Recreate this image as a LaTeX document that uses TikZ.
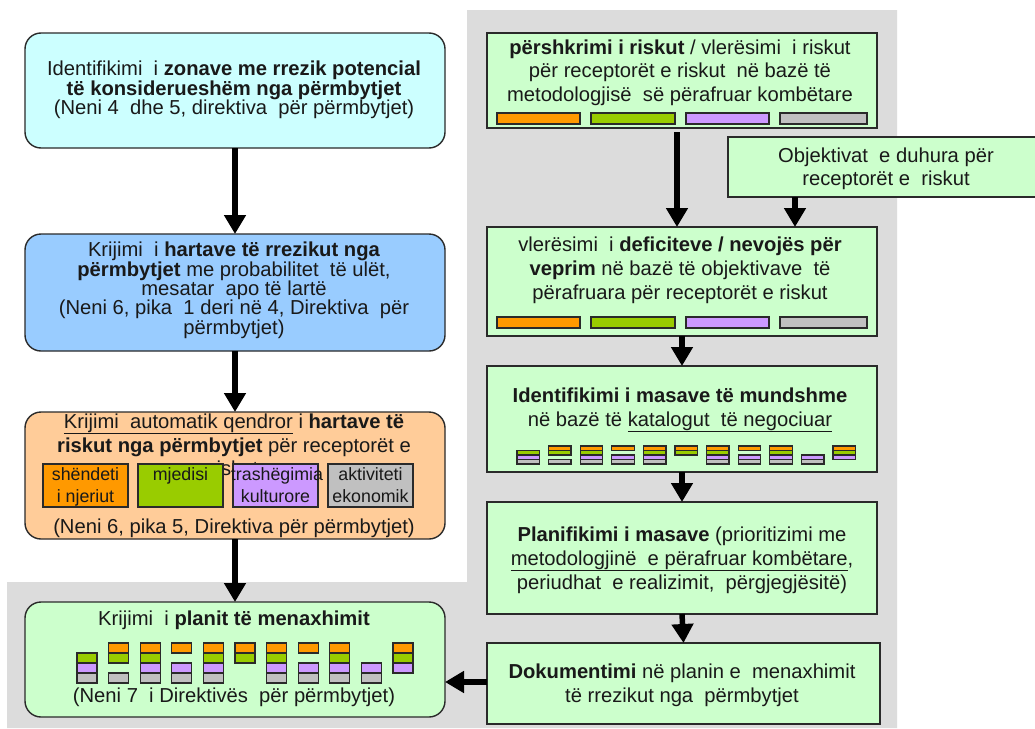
\documentclass[tikz,border=0pt]{standalone}
\usepackage{fontspec}
\setmainfont{Liberation Sans}
\usetikzlibrary{arrows.meta,calc}
\definecolor{bgray}{HTML}{DCDCDC}
\definecolor{cyanf}{HTML}{CCFFFF}
\definecolor{bluef}{HTML}{99CCFF}
\definecolor{orangef}{HTML}{FFCC99}
\definecolor{greenf}{HTML}{CCFFCC}
\definecolor{cO}{HTML}{FF9900}
\definecolor{cG}{HTML}{99CC00}
\definecolor{cP}{HTML}{CC99FF}
\definecolor{cY}{HTML}{C0C0C0}
\definecolor{edgec}{HTML}{2A2A2A}
\newcommand\txtline[4]{\node[txt] (#1) at (#2,#3) {#4};}
\newcommand\smline[4]{\node[smtxt] (#1) at (#2,#3) {#4};}
\newcommand\drawstacks[4]{%
  \foreach \c in {2,3,4,5,6,7,8,9,11} \draw[cell,fill=cO] ({#1+31.6*(\c-1)},{#2}) rectangle ++(#3,#4);
  \foreach \c in {1,2,3,5,6,7,9,11} \draw[cell,fill=cG] ({#1+31.6*(\c-1)},{#2+#4}) rectangle ++(#3,#4);
  \foreach \c in {1,3,4,5,7,8,9,10,11} \draw[cell,fill=cP] ({#1+31.6*(\c-1)},{#2+2*#4}) rectangle ++(#3,#4);
  \foreach \c in {1,2,3,4,5,7,8,9,10} \draw[cell,fill=cY] ({#1+31.6*(\c-1)},{#2+3*#4}) rectangle ++(#3,#4);
}
\begin{document}
\begin{tikzpicture}[x=1pt,y=-1pt,
  rbox/.style={draw=edgec,line width=1.4pt,rounded corners=16pt,inner sep=0pt,outer sep=0pt,anchor=north west},
  sbox/.style={draw=edgec,line width=1.4pt,inner sep=0pt,outer sep=0pt,anchor=north west,fill=greenf},
  txt/.style={anchor=base,inner sep=0pt,text height=14pt,text depth=3.5pt,font=\fontsize{20.2}{20.2}\selectfont,text=black!90},
  smtxt/.style={anchor=base,inner sep=0pt,text height=12.5pt,text depth=3.5pt,font=\fontsize{17.8}{17.8}\selectfont,text=black!90},
  cell/.style={draw=edgec,line width=1.3pt},
  catbox/.style={draw=edgec,line width=1.4pt,inner sep=0pt,outer sep=0pt,anchor=north west,minimum width=85pt,minimum height=43pt},
  arr/.style={line width=5.5pt,-{Triangle[width=21pt,length=19pt]}}]
\useasboundingbox (0,0) rectangle (1035,728);
\fill[white] (0,0) rectangle (1035,728);
% gray background
\fill[bgray] (467,10) -- (897,10) -- (897,728) -- (7,728) -- (7,582) -- (467,582) -- cycle;

% left column boxes
\node[rbox,fill=cyanf,minimum width=420pt,minimum height=115pt] (b1) at (25,33) {};
\node[rbox,fill=bluef,minimum width=420pt,minimum height=117pt] (b2) at (25,234) {};
\node[rbox,fill=orangef,minimum width=420pt,minimum height=127pt] (b3) at (25,412) {};
\node[rbox,fill=greenf,minimum width=420pt,minimum height=115pt] (b4) at (25,602) {};

% right column boxes
\node[sbox,minimum width=390pt,minimum height=95pt] (r1) at (487,33) {};
\node[sbox,minimum width=310pt,minimum height=60pt] (obj) at (728,137) {};
\node[sbox,minimum width=390pt,minimum height=109pt] (r2) at (487,227) {};
\node[sbox,minimum width=390pt,minimum height=106pt] (r3) at (487,366) {};
\node[sbox,minimum width=390pt,minimum height=112pt] (r4) at (487,502) {};
\node[sbox,minimum width=393pt,minimum height=81pt] (r5) at (487,643) {};

% B1 text
\txtline{b1a}{234}{75}{Identifikimi\ \ i \textbf{zonave me rrezik potencial}}
\txtline{b1b}{234}{95}{\textbf{të konsiderueshëm nga përmbytjet}}
\txtline{b1c}{234}{114}{(Neni 4\ \ dhe 5, direktiva\ \ për përmbytjet)}
% B2 text
\txtline{b2a}{234}{256}{Krijimi\ \ i \textbf{hartave të rrezikut nga}}
\txtline{b2b}{234}{276}{\textbf{përmbytjet} me probabilitet\ \ të ulët,}
\txtline{b2c}{234}{295}{mesatar\ \ apo të lartë}
\txtline{b2d}{234}{314}{(Neni 6, pika\ \ 1 deri në 4, Direktiva\ \ për}
\txtline{b2e}{234}{334.5}{përmbytjet)}
% B3 text
\txtline{b3a}{234}{428}{\underline{Krijimi\ \ automatik qendror} i \textbf{hartave të}}
\txtline{b3b}{234}{452}{\textbf{riskut nga përmbytjet} për receptorët e}
\txtline{b3c}{234}{475}{riskut}
\node[catbox,fill=cO] (k1) at (43,464) {};
\node[catbox,fill=cG] (k2) at (138,464) {};
\node[catbox,fill=cP] (k3) at (233,464) {};
\node[catbox,fill=cY] (k4) at (328,464) {};
\smline{k1a}{85.5}{480}{shëndeti}
\smline{k1b}{85.5}{502}{i njeriut}
\smline{k2a}{180.5}{480}{mjedisi}
\smline{k3a}{277}{480}{trashëgimia}
\smline{k3b}{275.5}{502}{kulturore}
\smline{k4a}{370.5}{480}{aktiviteti}
\smline{k4b}{370.5}{502}{ekonomik}
\txtline{b3d}{234}{533}{(Neni 6, pika 5, Direktiva për përmbytjet)}
% B4 text
\txtline{b4a}{234}{625}{Krijimi\ \ i \textbf{planit të menaxhimit}}
\drawstacks{77}{643}{20}{10}
\txtline{b4b}{234}{702}{(Neni 7\ \ i Direktivës\ \ për përmbytjet)}

% R1 text
\txtline{r1a}{680}{54}{\textbf{përshkrimi i riskut} / vlerësimi\ \ i riskut}
\txtline{r1b}{680}{77}{për receptorët e riskut\ \ në bazë të}
\txtline{r1c}{680}{101}{metodologjisë\ \ së përafruar kombëtare}
\draw[cell,fill=cO] (497,113) rectangle (580,124);
\draw[cell,fill=cG] (591,113) rectangle (675,124);
\draw[cell,fill=cP] (686,113) rectangle (769,124);
\draw[cell,fill=cY] (780,113) rectangle (867,124);
% Objectives text
\txtline{oa}{886}{162}{Objektivat\ \ e duhura për}
\txtline{ob}{886}{185}{receptorët e\ \ riskut}
% R2 text
\txtline{r2a}{680}{251}{vlerësimi\ \ i \textbf{deficiteve / nevojës për}}
\txtline{r2b}{680}{275}{\textbf{veprim} në bazë të objektivave\ \ të}
\txtline{r2c}{680}{299}{përafruara për receptorët e riskut}
\draw[cell,fill=cO] (497,317) rectangle (580,328);
\draw[cell,fill=cG] (591,317) rectangle (675,328);
\draw[cell,fill=cP] (686,317) rectangle (769,328);
\draw[cell,fill=cY] (780,317) rectangle (867,328);
% R3 text
\txtline{r3a}{680}{402}{\textbf{Identifikimi i masave të mundshme}}
\txtline{r3b}{680}{426}{në bazë të \underline{katalogut\ \ të negociuar}}
\drawstacks{517}{446}{22.5}{4.5}
% R4 text
\txtline{r4a}{682}{541}{\textbf{Planifikimi i masave} (prioritizimi me}
\txtline{r4b}{682}{565}{\underline{metodologjinë\ \ e përafruar kombëtare},}
\txtline{r4c}{682}{589}{periudhat\ \ e realizimit,\ \ përgjegjësitë)}
% R5 text
\txtline{r5a}{682}{678}{\textbf{Dokumentimi} në planin e\ \ menaxhimit}
\txtline{r5b}{682}{702}{të rrezikut nga\ \ përmbytjet}

% connectors
\draw[arr] (b1.south) -- (b2.north);
\draw[arr] (b2.south) -- (b3.north);
\draw[arr] (b3.south) -- (b4.north);
\draw[arr] ([xshift=-5pt,yshift=-4pt]r1.south) -- ([xshift=-5pt]r2.north);
\draw[arr] ([xshift=-88pt]obj.south) -- ([xshift=-88pt]obj.south |- r2.north);
\draw[arr] (r2.south) -- (r3.north);
\draw[arr] (r3.south) -- (r4.north);
\draw[arr] (r4.south) -- (r5.north);
\draw[arr] ([yshift=1.5pt]r5.west) -- ([yshift=1.5pt]r5.west -| b4.east);
\end{tikzpicture}
\end{document}
